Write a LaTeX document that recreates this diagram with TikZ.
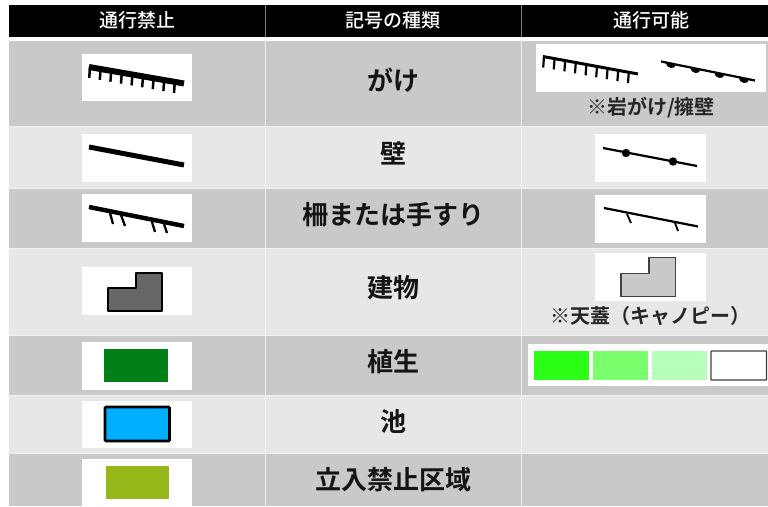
\documentclass[tikz,border=0pt]{standalone}
\usepackage{fontspec}
\setmainfont{Noto Sans CJK JP}[BoldFont={Noto Sans CJK JP Medium}]
\newfontfamily\jpheavy{Noto Sans CJK JP Bold}
\definecolor{rowdark}{HTML}{C9C9C9}
\definecolor{rowlight}{HTML}{E7E7E7}
\definecolor{rule}{HTML}{F2F2F2}
\tikzset{
  headtext/.style={text=white,font=\fontsize{19}{19}\selectfont\bfseries,inner sep=0pt},
  celltext/.style={text=black!92,font=\jpheavy\fontsize{26}{26}\selectfont,inner sep=0pt},
  notetext/.style={text=black!85,font=\jpheavy\fontsize{20}{20}\selectfont,inner sep=0pt},
  symbox/.style={fill=white,draw=none},
  thick line/.style={line width=5pt,line cap=butt},
  thin line/.style={line width=2.2pt},
  tooth/.style={line width=1.8pt},
}
\newcommand{\rowband}[3]{\fill[#3] (9,#1) rectangle (768,#2);}
\begin{document}
\begin{tikzpicture}[x=1pt,y=-1pt]
\useasboundingbox (0,0) rectangle (768,506);
\fill[white] (0,0) rectangle (768,506);
% header
\fill[black] (9,5) rectangle (768,37);
\draw[gray,line width=0.8pt] (265.5,5) -- (265.5,37);
\draw[gray,line width=0.8pt] (521.5,5) -- (521.5,37);
% rows
\rowband{41}{126}{rowdark}
\rowband{126}{188}{rowlight}
\rowband{188}{248}{rowdark}
\rowband{248}{335}{rowlight}
\rowband{335}{395}{rowdark}
\rowband{395}{453}{rowlight}
\rowband{453}{506}{rowdark}
\foreach \y in {126,188,248,335,395,453} \draw[rule,line width=0.7pt] (9,\y) -- (768,\y);
\foreach \x in {265.5,521.5} \draw[rule,line width=0.7pt] (\x,41) -- (\x,506);
% header text
\node[headtext] (h1) at (137,20.5) {通行禁止};
\node[headtext] (h2) at (393,20.5) {記号の種類};
\node[headtext] (h3) at (651,20) {通行可能};
% centre text
\node[celltext] (c1) at (393,80) {がけ};
\node[celltext] (c2) at (393,153) {壁};
\node[celltext] (c3) at (393,215) {柵または手すり};
\node[celltext] (c4) at (393,288) {建物};
\node[celltext] (c5) at (393,362) {植生};
\node[celltext] (c6) at (393,422) {池};
\node[celltext] (c7) at (393,480) {立入禁止区域};
% left boxes
\foreach \t/\b in {53.5/101,134/181.5,194/242,267/315,342/389.5,400.5/448,459/506}
  \fill[symbox] (81.5,\t) rectangle (192,\b);
% left cliff
\draw[line width=6pt] (89,67) -- (184,83.5);
\foreach \i in {0,...,8} {
  \pgfmathsetmacro{\xa}{90+\i*10.6}
  \pgfmathsetmacro{\ya}{67+\i*1.86}
  \draw[line width=2.5pt] (\xa,\ya) -- ++(-0.8,11);
}
% left wall
\draw[thick line] (89,147) -- (184,165);
% left fence
\draw[thick line,line width=4.5pt] (89,207) -- (184,226);
\draw[tooth,line width=2.3pt] (110,213) -- (113,224);
\draw[tooth,line width=2.3pt] (121,215) -- (125,226);
\draw[tooth,line width=2.3pt] (152,222) -- (155,232);
\draw[tooth,line width=2.3pt] (164,224) -- (167,233);
% left building
\draw[black,line width=2pt,fill=black!60,line join=round] (107.5,288) -- (136,288) -- (136,272.5) -- (162,272.5) -- (162,311) -- (107.5,311) -- cycle;
% left rects
\fill[fill={rgb,255:red,0;green,127;blue,23}] (103.5,349) rectangle (167.5,382);
\draw[black,line width=2.6pt,fill={rgb,255:red,0;green,176;blue,255},rounded corners=1pt] (105,407) rectangle (169.5,441);
\fill[fill={rgb,255:red,151;green,184;blue,27}] (105.5,466) rectangle (169,499);
% right boxes
\fill[symbox] (536,44) rectangle (766,91.5);
\fill[symbox] (595,134) rectangle (705.5,181.5);
\fill[symbox] (595,195) rectangle (705.5,243);
\fill[symbox] (595,252.5) rectangle (705.5,301);
\fill[symbox] (528,344) rectangle (768,386);
% right cliff
\draw[line width=3pt] (543,56.5) -- (638,74);
\foreach \i in {0,...,8} {
  \pgfmathsetmacro{\xa}{544+\i*10.6}
  \pgfmathsetmacro{\ya}{56.5+\i*1.95}
  \draw[line width=2.2pt] (\xa,\ya) -- ++(-0.8,11);
}
% right retaining wall
\draw[thin line] (661,61.5) -- (755,80.5);
\foreach \cx/\cy in {671/63.5,695.5/68.5,719.5/73.5,744/78.5}
  \fill (\cx-5,\cy-1) .. controls (\cx-4.5,\cy+6) and (\cx+4.5,\cy+6) .. (\cx+5,\cy+1) -- cycle;
% right wall
\draw[thin line] (603,148) -- (697,166);
\fill (626,153) circle (4.2);
\fill (673,161.5) circle (4.2);
% right fence
\draw[thin line] (604,208) -- (698,226.5);
\draw[tooth] (627,214) -- (631,223);
\draw[tooth] (675,223) -- (678,231);
% right building
\draw[black!75,line width=1.7pt,fill=rowdark,line join=round] (621,273.5) -- (649,273.5) -- (649,257.5) -- (675.5,257.5) -- (675.5,296.5) -- (621,296.5) -- cycle;
% swatches
\fill[fill={rgb,255:red,43;green,255;blue,23}] (533.5,351) rectangle (588.5,380);
\fill[fill={rgb,255:red,124;green,255;blue,109}] (593,351) rectangle (648,380);
\fill[fill={rgb,255:red,182;green,255;blue,184}] (652,351) rectangle (707,380);
\draw[black!75,line width=1.2pt,fill=white,rounded corners=0.5pt] (711,351) rectangle (766.5,380);
% notes
\node[notetext] (n1) at (651,108) {※岩がけ/擁壁};
\node[notetext] (n2) at (650.5,316) {※天蓋（キャノピー）};
\end{tikzpicture}
\end{document}
